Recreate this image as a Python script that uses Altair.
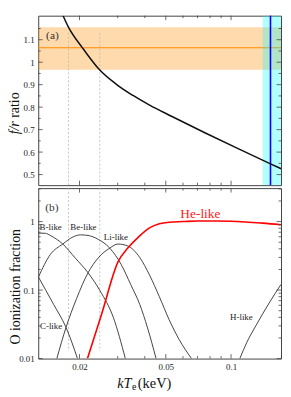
import altair as alt
import pandas as pd

FONT = "Liberation Serif"
FRAME = "#444444"
W, H1, H2 = 245, 171, 172

# ---------------- data ----------------
X_DOMAIN = [0.0129, 0.17]
YTOP_DOMAIN = [0.453, 1.207]
YBOT_DOMAIN = [0.01, 3.08]

# panel (a): f/r ratio vs kTe
FR_KT = [0.01679, 0.01778, 0.02064, 0.02474, 0.02968, 0.0353, 0.0421, 0.0537, 0.0761, 0.1078, 0.152, 0.170]
FR_VAL = [1.207, 1.156, 1.0638, 0.966, 0.9006, 0.852, 0.809, 0.7572, 0.6849, 0.6152, 0.5477, 0.5261]

OBS_LO, OBS_HI, OBS_MID = 0.966, 1.156, 1.064
TEMP_LO, TEMP_HI, TEMP_MID = 0.14, 0.17, 0.152
DASH_KT = [0.0178, 0.0248]
DASH_TOP_Y = [1.131, 0.453]
DASH_BOT_Y = [3.08, 0.0129]

# panel (b): O ionization fractions
C_KT = [0.01293, 0.01518, 0.01733, 0.01958]
C_F = [0.155, 0.062, 0.0285, 0.01]
B_KT = [0.01293, 0.0139, 0.01476, 0.01674, 0.01918, 0.0219, 0.0249, 0.02863, 0.03254]
B_F = [0.68, 0.675, 0.62, 0.47, 0.29, 0.179, 0.097, 0.040, 0.01]
BE_KT = [0.01293, 0.01466, 0.01674, 0.01873, 0.0202, 0.0219, 0.0244, 0.02757, 0.03114, 0.03447, 0.0379, 0.0412, 0.0451]
BE_F = [0.155, 0.33, 0.47, 0.60, 0.64, 0.627, 0.55, 0.41, 0.236, 0.12, 0.062, 0.028, 0.01]
LI_KT = [0.01572, 0.01733, 0.01938, 0.0219, 0.0244, 0.02757, 0.0301, 0.0334, 0.0379, 0.0421, 0.0467, 0.0518, 0.0576, 0.0657]
LI_F = [0.01, 0.0285, 0.075, 0.179, 0.295, 0.41, 0.47, 0.44, 0.30, 0.165, 0.08, 0.037, 0.019, 0.01]
HE_KT = [0.02175, 0.02526, 0.03017, 0.0334, 0.0379, 0.0421, 0.0467, 0.0518, 0.06, 0.07, 0.085, 0.1, 0.12, 0.14, 0.17]
HE_F = [0.01, 0.044, 0.263, 0.41, 0.62, 0.81, 0.93, 0.98, 1.0, 1.02, 1.02, 1.01, 0.98, 0.95, 0.90]
H_KT = [0.1098, 0.118, 0.13, 0.15, 0.17]
H_F = [0.01, 0.017, 0.03, 0.065, 0.121]

ION_LABELS = ["B-like", "Be-like", "Li-like", "C-like", "H-like"]
ION_LABEL_KT = [0.01472, 0.02085, 0.02944, 0.01479, 0.1116]
ION_LABEL_F = [0.758, 0.758, 0.534, 0.0269, 0.0364]
HE_LABEL = ["He-like"]
HE_LABEL_KT = [0.0722]
HE_LABEL_F = [1.139]

# ticks
X_MAJOR = [0.02, 0.05, 0.1]
X_MINOR = [0.03, 0.04, 0.06, 0.07, 0.08, 0.09]
YTOP_MAJOR = [0.5, 0.6, 0.7, 0.8, 0.9, 1.0, 1.1]
YTOP_MINOR = [0.55, 0.65, 0.75, 0.85, 0.95, 1.05, 1.15]
YBOT_MAJOR = [0.01, 0.1, 1]
YBOT_MINOR = [0.02, 0.03, 0.04, 0.05, 0.06, 0.07, 0.08, 0.09,
              0.2, 0.3, 0.4, 0.5, 0.6, 0.7, 0.8, 0.9, 2, 3]

# ---------------- scales / axes ----------------
xs = alt.Scale(type="log", domain=X_DOMAIN, nice=False)
ys1 = alt.Scale(domain=YTOP_DOMAIN, nice=False, zero=False)
ys2 = alt.Scale(type="log", domain=YBOT_DOMAIN, nice=False)

TITLE_X = -19
lab = dict(labelFont=FONT, labelFontSize=9, labelColor="#222", ticks=False,
           tickSize=0, domain=False, grid=False, labelPadding=4)

x_axis_bot = alt.Axis(values=X_MAJOR, format="~g", title=None, **lab)
y_axis_top = alt.Axis(values=YTOP_MAJOR, format="~g", title=None, **lab)
y_axis_bot = alt.Axis(values=YBOT_MAJOR, format="~g", title="O ionization fraction",
                      titleFont=FONT, titleFontSize=14, titleFontWeight="normal",
                      titleColor="#111", titleX=TITLE_X, titleY=99, titleAngle=270,
                      titleAlign="center", titleBaseline="alphabetic", **lab)


def X(axis):
    return alt.X("x:Q", scale=xs, axis=axis)


def tick_layers(Xenc, H):
    layers = []
    for vals, L in ((X_MAJOR, 4.5), (X_MINOR, 2.5)):
        df = pd.DataFrame({"x": vals})
        layers.append(alt.Chart(df).mark_rule(color=FRAME, strokeWidth=0.8).encode(
            x=Xenc, y=alt.value(0), y2=alt.value(L)))
        layers.append(alt.Chart(df).mark_rule(color=FRAME, strokeWidth=0.8).encode(
            x=Xenc, y=alt.value(H - L), y2=alt.value(H)))
    return layers


def ytick_layers(Yenc, major, minor):
    layers = []
    for vals, L in ((major, 4.5), (minor, 2.5)):
        df = pd.DataFrame({"y": vals})
        layers.append(alt.Chart(df).mark_rule(color=FRAME, strokeWidth=0.8).encode(
            y=Yenc, x=alt.value(0), x2=alt.value(L)))
        layers.append(alt.Chart(df).mark_rule(color=FRAME, strokeWidth=0.8).encode(
            y=Yenc, x=alt.value(W - L), x2=alt.value(W)))
    return layers


# ---------------- top panel ----------------
XT = X(None)
YT = alt.Y("y:Q", scale=ys1, axis=y_axis_top)

band = alt.Chart(pd.DataFrame({"y": [OBS_LO], "y2": [OBS_HI]})).mark_rect(
    color="#ff8c00", opacity=0.32).encode(
    x=alt.value(0), x2=alt.value(W), y=YT, y2="y2:Q")
band_line = alt.Chart(pd.DataFrame({"y": [OBS_MID]})).mark_rule(
    color="#ff8c00", strokeWidth=1.1).encode(y=YT)
dash_top = alt.Chart(pd.DataFrame({"x": DASH_KT, "y": [DASH_TOP_Y[0]] * 2,
                                   "y2": [DASH_TOP_Y[1]] * 2})).mark_rule(
    color="#b8b8b8", strokeWidth=0.8, strokeDash=[2, 2]).encode(x=XT, y=YT, y2="y2:Q")
cyan = alt.Chart(pd.DataFrame({"x": [TEMP_LO], "x2": [TEMP_HI]})).mark_rect(
    color="#00ffff", opacity=0.3, clip=True).encode(
    x=XT, x2="x2:Q", y=alt.value(0), y2=alt.value(H1))
blue = alt.Chart(pd.DataFrame({"x": [TEMP_MID]})).mark_rule(
    color="#0000ff", strokeWidth=1.6).encode(x=XT)
fr_line = alt.Chart(pd.DataFrame({"x": FR_KT, "y": FR_VAL})).mark_line(
    color="#111", strokeWidth=1.5, interpolate="monotone", clip=True).encode(x=XT, y=YT)
lab_a = alt.Chart(pd.DataFrame({"x": [0.015], "y": [1.104], "t": ["(a)"]})).mark_text(
    font=FONT, fontSize=11.5, color="#333", align="center", baseline="alphabetic").encode(
    x=XT, y=YT, text="t:N")
ttl1 = alt.Chart(pd.DataFrame({"t": ["f/r"]})).mark_text(
    font=FONT, fontSize=14, fontStyle="italic", color="#111", angle=270,
    align="right", baseline="alphabetic").encode(
    x=alt.value(TITLE_X), y=alt.value(106.5), text="t:N")
ttl2 = alt.Chart(pd.DataFrame({"t": ["ratio"]})).mark_text(
    font=FONT, fontSize=14, color="#111", angle=270,
    align="left", baseline="alphabetic").encode(
    x=alt.value(TITLE_X), y=alt.value(103), text="t:N")

top = alt.layer(
    band, band_line, dash_top, cyan, blue, fr_line, lab_a, ttl1, ttl2,
    *tick_layers(XT, H1), *ytick_layers(YT, YTOP_MAJOR, YTOP_MINOR)
).properties(width=W, height=H1)

# ---------------- bottom panel ----------------
XB = X(x_axis_bot)
YB = alt.Y("y:Q", scale=ys2, axis=y_axis_bot)

rows = []
for name, kt, f in (("C-like", C_KT, C_F), ("B-like", B_KT, B_F), ("Be-like", BE_KT, BE_F),
                    ("Li-like", LI_KT, LI_F), ("H-like", H_KT, H_F)):
    for a, b in zip(kt, f):
        rows.append({"ion": name, "x": a, "y": b})
ions = pd.DataFrame(rows)
he = pd.DataFrame({"x": HE_KT, "y": HE_F})

dash_bot = alt.Chart(pd.DataFrame({"x": DASH_KT, "y": [DASH_BOT_Y[0]] * 2,
                                   "y2": [DASH_BOT_Y[1]] * 2})).mark_rule(
    color="#b8b8b8", strokeWidth=0.8, strokeDash=[2, 2]).encode(x=XB, y=YB, y2="y2:Q")
ion_lines = alt.Chart(ions).mark_line(
    color="#3a3a3a", strokeWidth=0.95, interpolate="monotone", clip=True).encode(
    x=XB, y=YB, detail="ion:N")
he_line = alt.Chart(he).mark_line(
    color="#ff0000", strokeWidth=1.6, interpolate="monotone", clip=True).encode(x=XB, y=YB)
ion_text = alt.Chart(pd.DataFrame({"x": ION_LABEL_KT, "y": ION_LABEL_F, "t": ION_LABELS})).mark_text(
    font=FONT, fontSize=9, color="#222", align="center", baseline="alphabetic").encode(
    x=XB, y=YB, text="t:N")
he_text = alt.Chart(pd.DataFrame({"x": HE_LABEL_KT, "y": HE_LABEL_F, "t": HE_LABEL})).mark_text(
    font=FONT, fontSize=13.5, color="#ff2020", align="center", baseline="alphabetic").encode(
    x=XB, y=YB, text="t:N")
lab_b = alt.Chart(pd.DataFrame({"x": [0.01491], "y": [1.43], "t": ["(b)"]})).mark_text(
    font=FONT, fontSize=11.5, color="#333", align="center", baseline="alphabetic").encode(
    x=XB, y=YB, text="t:N")
xt1 = alt.Chart(pd.DataFrame({"t": ["kT"]})).mark_text(
    font=FONT, fontSize=14.5, fontStyle="italic", color="#111", align="right",
    baseline="alphabetic").encode(x=alt.value(94.2), y=alt.value(202), text="t:N")
xt2 = alt.Chart(pd.DataFrame({"t": ["e"]})).mark_text(
    font=FONT, fontSize=10, color="#111", align="left",
    baseline="alphabetic").encode(x=alt.value(94.6), y=alt.value(204), text="t:N")
xt3 = alt.Chart(pd.DataFrame({"t": ["(keV)"]})).mark_text(
    font=FONT, fontSize=14.5, color="#111", align="left",
    baseline="alphabetic").encode(x=alt.value(100.5), y=alt.value(202), text="t:N")

bottom = alt.layer(
    dash_bot, ion_lines, he_line, ion_text, he_text, lab_b, xt1, xt2, xt3,
    *tick_layers(XB, H2), *ytick_layers(YB, YBOT_MAJOR, YBOT_MINOR)
).properties(width=W, height=H2)

chart = alt.vconcat(top, bottom, spacing=0).properties(
    padding={"left": -0.5, "top": 4, "right": 0, "bottom": -1}
).configure_view(stroke=FRAME, strokeWidth=1).configure_concat(spacing=0)

chart.save("out.html", embed_options={"renderer": "svg", "actions": False})
